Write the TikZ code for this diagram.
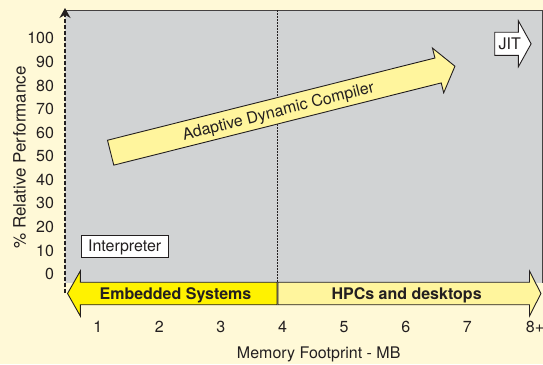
\documentclass[tikz,border=0pt]{standalone}
\usepackage{fontspec}
\setmainfont{TeX Gyre Heros}
\usetikzlibrary{shapes,arrows.meta,positioning}
\definecolor{cream}{HTML}{FFF9D7}
\definecolor{panel}{HTML}{D1D3D4}
\definecolor{ink}{HTML}{231F20}
\definecolor{hotyellow}{HTML}{FFF200}
\definecolor{paleyellow}{HTML}{FFF59D}
\tikzset{
  txt/.style={font=\fontsize{16}{19}\selectfont, text=ink},
  numlabel/.style={txt, anchor=base},
  fat/.style={single arrow, draw=ink, line width=0.9pt, txt, text height=11.5pt, text depth=0pt, inner xsep=3.4pt},
  band/.style={fat, inner ysep=5.05pt, single arrow head extend=11.3pt, font=\fontsize{16}{19}\selectfont\bfseries},
  axisline/.style={draw=ink, line width=1.2pt, dash pattern=on 4pt off 2pt, -{Stealth[length=10pt,width=11pt]}},
  frame/.style={draw=ink!85, line width=1pt},
  divider/.style={draw=ink, line width=0.7pt, dash pattern=on 1.5pt off 1.5pt}
}

\begin{document}
\begin{tikzpicture}[x=1pt,y=-1pt]
  \path[use as bounding box, fill=cream] (0,0) rectangle (543,364);
  \fill[panel] (65,10) rectangle (542.5,283);
  \draw[frame] (65,10) -- (542.5,10) -- (542.5,283);
  \draw[divider] (277.5,10) -- (277.5,283);

  \coordinate (origin) at (65,293);
  \coordinate (ytop) at (65,8);
  \draw[axisline] (origin) -- (ytop);

  \coordinate (split) at (277.5,293.5);
  \node[band, fill=hotyellow, shape border rotate=180, anchor=tail, minimum height=209.5pt,
        single arrow tip angle=121] (embedded) at (split) {Embedded Systems};
  \node[band, fill=paleyellow, anchor=tail, minimum height=263pt,
        single arrow tip angle=126] (hpc) at (split) {HPCs and desktops};

  \node[fat, fill=paleyellow, rotate=14.1, anchor=tail, minimum height=355pt,
        inner ysep=6.65pt, single arrow head extend=10.2pt,
        single arrow tip angle=106] (compiler) at (110.2,152.8) {Adaptive Dynamic Compiler};
  \node[fat, fill=white, anchor=tail, inner ysep=5.4pt, single arrow head extend=11.3pt,
        single arrow tip angle=122] (jit) at (494.3,43.8) {JIT};

  \node[txt, draw=ink, fill=white, line width=0.9pt, minimum width=87.3pt, minimum height=22.3pt,
        inner sep=0pt, text height=11.5pt, text depth=0pt] (interp) at (124.7,246.2) {Interpreter};

  \foreach \v in {0,10,...,100}
    \node[numlabel, anchor=base east] (y\v) at (57.5,{279.6-2.357*\v}) {\v};
  \foreach \i in {1,...,7}
    \node[numlabel] (x\i) at ({36.1+61.6*\i},332.3) {\i};
  \node[numlabel, anchor=base west] (x8) at (522.4,332.3) {8+};

  \node[txt, anchor=base] (xtitle) at (318.7,358.5) {Memory Footprint - MB};
  \node[txt, font=\fontsize{17}{20}\selectfont, rotate=90, anchor=base] (ytitle) at (25.5,157.5) {\% Relative Performance};
\end{tikzpicture}
\end{document}
